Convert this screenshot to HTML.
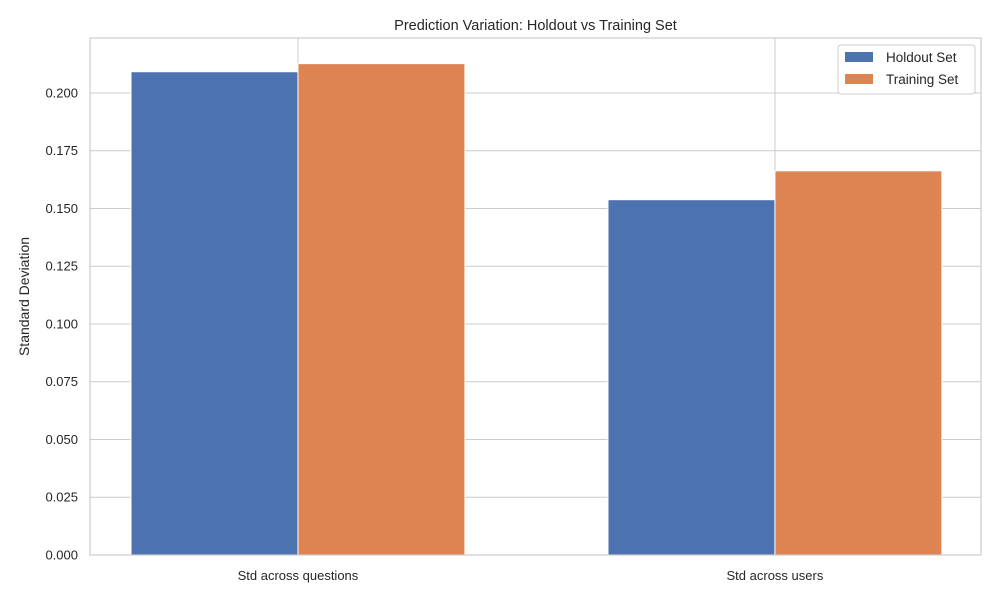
<!DOCTYPE html>
<html><head><meta charset="utf-8"><style>
body{margin:0;background:#fff;font-family:"Liberation Sans",sans-serif;}
</style></head><body>
<svg width="1000" height="600" xmlns="http://www.w3.org/2000/svg">
<g id="plot"></g>
</svg>
<script>
const categories=["Std across questions","Std across users"];
const holdout=[0.2092,0.1538];
const training=[0.2127,0.1663];
const yTicks=[0,0.025,0.05,0.075,0.1,0.125,0.15,0.175,0.2];
const yTickLabels=["0.000","0.025","0.050","0.075","0.100","0.125","0.150","0.175","0.200"];
const L=90,R=981,T=38,B=555;
const yMax=0.2238;
const y=v=>B-(v/yMax)*(B-T);
const xMin=-0.436,xMax=1.432;
const x=v=>L+(v-xMin)/(xMax-xMin)*(R-L);
const ns="http://www.w3.org/2000/svg";
const svg=document.querySelector('svg');
function el(tag,attrs,parent){const e=document.createElementNS(ns,tag);for(const k in attrs)e.setAttribute(k,attrs[k]);(parent||svg).appendChild(e);return e;}
el('rect',{x:L,y:T,width:R-L,height:B-T,fill:'#fff'});
yTicks.forEach((t,i)=>{
 const g=el('line',{x1:L,x2:R,y1:y(t),y2:y(t),stroke:'#cccccc','stroke-width':1});
 
 
 const tx=el('text',{x:L-12,y:y(t)+4.5,'text-anchor':'end','font-size':13,fill:'#262626'});
 tx.textContent=yTickLabels[i];
 
 
});
categories.forEach((c,i)=>{
 const g=el('line',{x1:x(i),x2:x(i),y1:T,y2:B,stroke:'#cccccc','stroke-width':1});
 
 
});
const bw=0.35;
categories.forEach((c,i)=>{
 const b1=el('rect',{x:x(i-bw),y:y(holdout[i]),width:x(i)-x(i-bw),height:B-y(holdout[i]),fill:'#4c72b0',stroke:'#fff','stroke-width':1});
 
 
 const b2=el('rect',{x:x(i),y:y(training[i]),width:x(i+bw)-x(i),height:B-y(training[i]),fill:'#dd8452',stroke:'#fff','stroke-width':1});
 
 
 const tx=el('text',{x:x(i),y:580,'text-anchor':'middle','font-size':13,fill:'#262626'});
 tx.textContent=c;
 
 
});
const fr=el('rect',{x:L,y:T,width:R-L,height:B-T,fill:'none',stroke:'#cccccc','stroke-width':1.2});


const title=el('text',{x:(L+R)/2,y:30,'text-anchor':'middle','font-size':14.5,fill:'#262626'});
title.textContent='Prediction Variation: Holdout vs Training Set';


const yl=el('text',{x:0,y:0,'text-anchor':'middle','font-size':14,fill:'#262626',transform:`translate(29,${(T+B)/2}) rotate(-90)`});
yl.textContent='Standard Deviation';


const lg=el('g',{});


el('rect',{x:838,y:45,width:137,height:49,rx:3,fill:'#fff',stroke:'#cccccc'},lg);
[['Holdout Set','#4c72b0'],['Training Set','#dd8452']].forEach((e,i)=>{
 const g=el('g',{},lg);
 
 
 el('rect',{x:845,y:52+i*22,width:28,height:10,fill:e[1]},g);
 const t=el('text',{x:886,y:62+i*22,'font-size':13.5,fill:'#262626'},g);
 t.textContent=e[0];
});
</script>
</body></html>
